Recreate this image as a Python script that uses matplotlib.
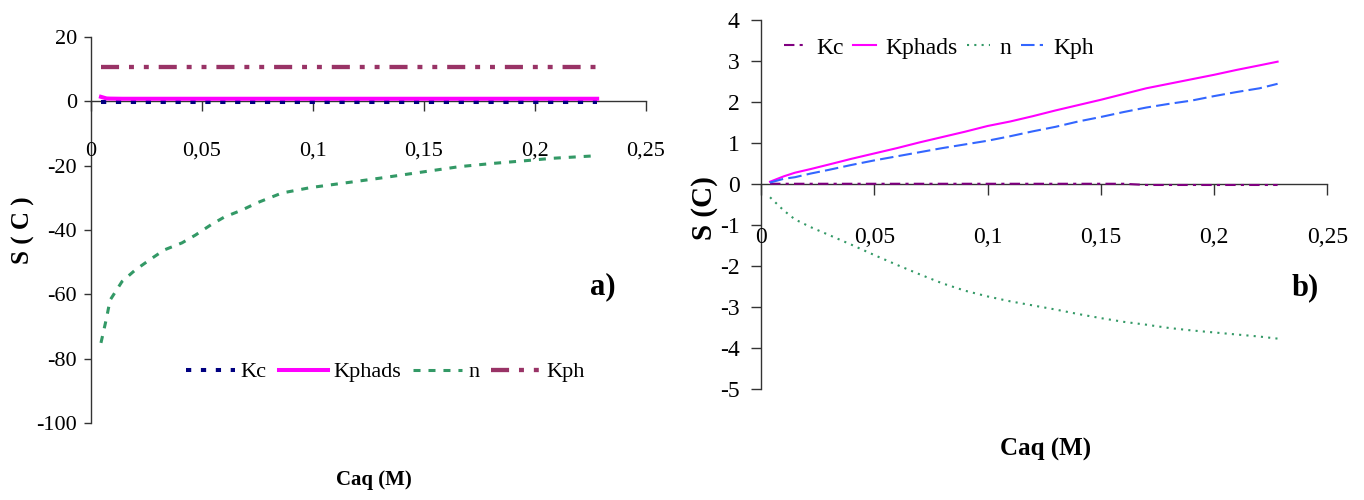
import matplotlib
matplotlib.use("Agg")
import matplotlib.pyplot as plt

plt.rcParams['font.family'] = ['Liberation Serif', 'DejaVu Serif']
plt.rcParams['axes.unicode_minus'] = False

# ---- panel a) data ----
caq_a = [0.0045, 0.007, 0.0086, 0.014, 0.020, 0.027, 0.033, 0.041, 0.047, 0.054, 0.060, 0.068,
         0.075, 0.086, 0.099, 0.113, 0.130, 0.145, 0.166, 0.181, 0.195, 0.208, 0.228]
kc_a = [-0.3, -0.3, -0.3, -0.3, -0.3, -0.3, -0.3, -0.3, -0.3, -0.3, -0.3, -0.3,
        -0.3, -0.3, -0.3, -0.3, -0.3, -0.3, -0.3, -0.3, -0.3, -0.3, -0.3]
kphads_a = [1.4, 0.9, 0.85, 0.8, 0.8, 0.8, 0.8, 0.8, 0.8, 0.8, 0.8, 0.8,
            0.8, 0.8, 0.8, 0.8, 0.8, 0.8, 0.8, 0.8, 0.8, 0.8, 0.8]
n_a = [-75.1, -67.4, -61.8, -56.0, -52.4, -49.0, -46.2, -44.0, -41.6, -38.4, -36.0, -33.8,
       -31.5, -28.5, -26.8, -25.5, -23.9, -22.4, -20.3, -19.3, -18.5, -17.7, -16.9]
kph_a = [10.6, 10.6, 10.6, 10.6, 10.6, 10.6, 10.6, 10.6, 10.6, 10.6, 10.6, 10.6,
         10.6, 10.6, 10.6, 10.6, 10.6, 10.6, 10.6, 10.6, 10.6, 10.6, 10.6]

# ---- panel b) data ----
caq_b = [0.004, 0.010, 0.015, 0.022, 0.030, 0.040, 0.050, 0.060, 0.070, 0.080, 0.090, 0.100, 0.110,
         0.120, 0.130, 0.140, 0.150, 0.160, 0.170, 0.180, 0.190, 0.200, 0.210, 0.220, 0.228]
kc_b = [0.01, 0.01, 0.01, 0.01, 0.01, 0.01, 0.01, 0.01, 0.01, 0.01, 0.01, 0.01, 0.01,
        0.01, 0.01, 0.01, 0.01, 0.01, -0.02, -0.02, -0.02, -0.02, -0.02, -0.02, -0.02]
kphads_b = [0.06, 0.19, 0.28, 0.37, 0.48, 0.62, 0.75, 0.88, 1.02, 1.15, 1.28, 1.42, 1.53,
            1.66, 1.80, 1.93, 2.06, 2.20, 2.34, 2.45, 2.56, 2.67, 2.79, 2.90, 2.99]
n_b = [-0.32, -0.64, -0.86, -1.05, -1.24, -1.48, -1.73, -1.97, -2.20, -2.42, -2.60, -2.74, -2.86,
       -2.96, -3.06, -3.17, -3.27, -3.36, -3.43, -3.51, -3.57, -3.62, -3.67, -3.72, -3.77]
kph_b = [0.04, 0.13, 0.17, 0.26, 0.35, 0.47, 0.58, 0.68, 0.78, 0.88, 0.97, 1.06, 1.17,
         1.29, 1.40, 1.53, 1.64, 1.76, 1.87, 1.96, 2.04, 2.15, 2.25, 2.34, 2.45]

series_names = ['Kc', 'Kphads', 'n', 'Kph']
x_ticks = [0, 0.05, 0.1, 0.15, 0.2, 0.25]
x_ticklabels = ['0', '0,05', '0,1', '0,15', '0,2', '0,25']
y_ticks_a = [20, 0, -20, -40, -60, -80, -100]
y_ticks_b = [4, 3, 2, 1, 0, -1, -2, -3, -4, -5]

fig = plt.figure(figsize=(13.64, 5), dpi=100)
ax1 = fig.add_axes([0.0667, 0.154, 0.4069, 0.772])
ax2 = fig.add_axes([0.5579, 0.222, 0.4153, 0.7374])


def style_axes(ax, yticks, fs, xlen, xpad, ylen, ypad):
    for side in ('top', 'right'):
        ax.spines[side].set_visible(False)
    ax.spines['bottom'].set_position(('data', 0))
    for side in ('left', 'bottom'):
        ax.spines[side].set_color('#333333')
        ax.spines[side].set_linewidth(1.0)
        ax.spines[side].set_zorder(1)
    ax.set_xlim(0, 0.25)
    ax.set_ylim(min(yticks), max(yticks))
    ax.set_xticks(x_ticks)
    ax.set_xticklabels(x_ticklabels)
    ax.set_yticks(yticks)
    ax.set_yticklabels([str(v) for v in yticks])
    ax.tick_params(axis='x', direction='out', length=xlen, width=1.0, pad=xpad,
                   labelsize=fs, color='#333333')
    ax.tick_params(axis='y', direction='out', length=ylen, width=1.0, pad=ypad,
                   labelsize=fs, color='#333333')
    ax.patch.set_alpha(0)


# panel a)
style_axes(ax1, y_ticks_a, 16, 7.2, 22, 4.7, 5.4)
ax1.plot(caq_a, kc_a, color='#000080', lw=2.9, ls=(0, (1.3, 2.4)), label=series_names[0], zorder=3)
ax1.plot(caq_a, kphads_a, color='#FF00FF', lw=2.9, ls='-', label=series_names[1], zorder=4)
ax1.plot(caq_a, n_a, color='#339966', lw=2.2, ls=(0, (2.3, 2.6)), label=series_names[2], zorder=3)
ax1.plot(caq_a, kph_a, color='#993366', lw=3.1, ls=(0, (4.2, 2.3, 1.15, 2.3, 1.15, 2.3)),
         label=series_names[3], zorder=3)
ax1.legend(loc='center', bbox_to_anchor=(0.53, 0.132), ncol=4, frameon=False, fontsize=16,
           handlelength=2.2, handletextpad=0.27, columnspacing=0.54, borderpad=0)
ax1.set_ylabel('S ( C )', fontsize=18, fontweight='bold', va='center')
ax1.yaxis.set_label_coords(-0.1225, 0.5)
ax1.set_xlabel('Caq (M)', fontsize=15, fontweight='bold', va='center')
ax1.xaxis.set_label_coords(0.51, -0.148)
ax1.text(0.922, 0.352, 'a)', transform=ax1.transAxes, fontsize=22, fontweight='bold',
         ha='center', va='center')

# panel b)
style_axes(ax2, y_ticks_b, 17, 8, 23, 7.2, 8)
ax2.plot(caq_b, kc_b, color='#800080', lw=1.5, ls=(0, (5, 2.5, 1.5, 2.5)), label=series_names[0], zorder=3)
ax2.plot(caq_b, kphads_b, color='#FF00FF', lw=1.5, ls='-', label=series_names[1], zorder=3)
ax2.plot(caq_b, n_b, color='#339966', lw=1.5, ls=(0, (1, 2.5)), label=series_names[2], zorder=3)
ax2.plot(caq_b, kph_b, color='#3366FF', lw=1.5, ls=(0, (6.5, 2.5)), label=series_names[3], zorder=3)
ax2.legend(loc='center left', bbox_to_anchor=(0.02, 0.925), ncol=4, frameon=False, fontsize=17,
           handlelength=0.95, handletextpad=0.42, columnspacing=0.4, borderpad=0)
ax2.set_ylabel('S (C)', fontsize=21, fontweight='bold', va='center')
ax2.yaxis.set_label_coords(-0.099, 0.49)
ax2.set_xlabel('Caq (M)', fontsize=18, fontweight='bold', va='center')
ax2.xaxis.set_label_coords(0.503, -0.165)
ax2.text(0.96, 0.274, 'b)', transform=ax2.transAxes, fontsize=22, fontweight='bold',
         ha='center', va='center')

fig.savefig('out.png', dpi=100)
